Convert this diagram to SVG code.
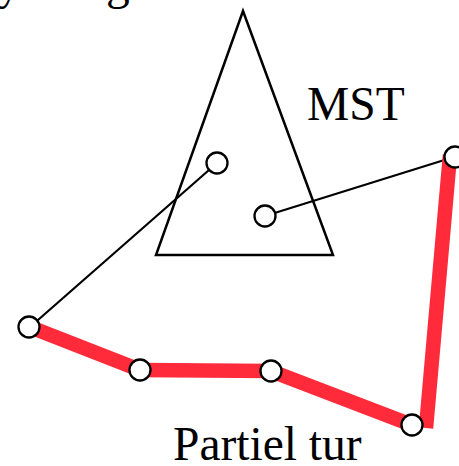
<svg xmlns="http://www.w3.org/2000/svg" width="459" height="466" viewBox="0 0 459 466">
<style>
.lbl{font-family:"Liberation Serif","Times New Roman",serif;font-size:47.5px;fill:#000}
.node{fill:#fff;stroke:#000;stroke-width:2.3}
.mst{stroke:#000;stroke-width:2.2;fill:none}
.tour{stroke:#ff2a3a;stroke-width:14.5;fill:none;stroke-linecap:butt}
</style>
<rect width="459" height="466" fill="#fff"/>
<text class="lbl" x="-3" y="-1">y</text>
<text class="lbl" x="106" y="-1">g</text>
<polygon points="243,11 156,255 333,255" fill="none" stroke="#000" stroke-width="2.5" stroke-linejoin="miter"/>
<text class="lbl" x="307" y="120">MST</text>
<text class="lbl" x="173" y="460">Partiel tur</text>
<g id="connectors">
<line class="mst" x1="30" y1="327" x2="217" y2="163"/>
<line class="mst" x1="265" y1="216" x2="454" y2="157"/>
<line class="tour" x1="30" y1="327" x2="140" y2="370"/>
<line class="tour" x1="140" y1="370" x2="271" y2="371"/>
<line class="tour" x1="271" y1="371" x2="412" y2="425"/>
<line class="tour" x1="426" y1="428" x2="450" y2="155"/>
</g>
<g id="n1"><circle class="node" cx="217" cy="163" r="10.5"/></g>
<g id="n2"><circle class="node" cx="265" cy="216" r="10.5"/></g>
<g id="n3"><circle class="node" cx="455" cy="157" r="10.5"/></g>
<g id="n4"><circle class="node" cx="29" cy="327" r="10.5"/></g>
<g id="n5"><circle class="node" cx="140" cy="370" r="10.5"/></g>
<g id="n6"><circle class="node" cx="271" cy="371" r="10.5"/></g>
<g id="n7"><circle class="node" cx="412" cy="425" r="10.5"/></g>
</svg>
